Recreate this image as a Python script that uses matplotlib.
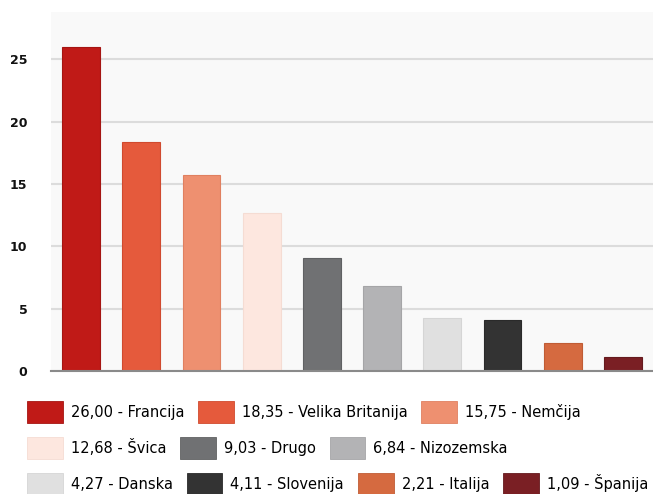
import matplotlib
matplotlib.use("Agg")
from matplotlib import pyplot as plt
from matplotlib.patches import Patch

# data
countries = ["Francija", "Velika Britanija", "Nemčija", "Švica", "Drugo",
             "Nizozemska", "Danska", "Slovenija", "Italija", "Španija"]
values = [26.00, 18.35, 15.75, 12.68, 9.03, 6.84, 4.27, 4.11, 2.21, 1.09]
colors = ["#c01a17", "#e55a3c", "#ee9070", "#fde7df", "#707173",
          "#b3b3b5", "#e0e0e0", "#333333", "#d56a40", "#7a1f24"]
edges = ["#a51512", "#d04a2f", "#e08060", "#f5dcd3", "#606163",
         "#a5a5a7", "#d5d5d5", "#2a2a2a", "#c05c35", "#651a1e"]
yticks = [0, 5, 10, 15, 20, 25]
legend_rows = [[0, 1, 2], [3, 4, 5], [6, 7, 8, 9]]

fig = plt.figure(figsize=(6.53, 4.94), dpi=100)
ax = fig.add_axes([51 / 653, 1 - 371 / 494, 602 / 653, 359 / 494])
ax.set_facecolor("#f9f9f9")

x = list(range(len(values)))
ax.bar(x, values, width=0.63, color=colors, edgecolor=edges, linewidth=0.8, zorder=3)

ax.set_xlim(-0.5, len(values) - 0.5)
ax.set_ylim(0, 28.8)
ax.set_yticks(yticks)
ax.set_yticklabels([str(t) for t in yticks], fontsize=9, fontweight="bold", color="#111111")
ax.tick_params(axis="y", length=0, pad=17)
ax.set_xticks([])
ax.yaxis.grid(True, color="#dcdcdc", linewidth=1.5, zorder=0)
for s in ["top", "right", "left"]:
    ax.spines[s].set_visible(False)
ax.spines["bottom"].set_color("#8a8a8a")
ax.spines["bottom"].set_linewidth(1.5)
ax.spines["bottom"].set_zorder(4)

# legend, one row at a time (flow layout)
row_y = [412, 448, 484]
for row, yc in zip(legend_rows, row_y):
    handles = [Patch(facecolor=colors[i], edgecolor=edges[i], linewidth=0.6) for i in row]
    labels = [f"{values[i]:.2f}".replace(".", ",") + " - " + countries[i] for i in row]
    fig.legend(handles, labels, loc="center left", bbox_to_anchor=(27 / 653, 1 - yc / 494),
               ncol=len(row), frameon=False, borderpad=0, borderaxespad=0,
               handlelength=2.45, handleheight=1.85, handletextpad=0.55,
               columnspacing=0.95, prop={"family": "DejaVu Sans", "size": 10.5})

fig.savefig("out.png", dpi=100)
